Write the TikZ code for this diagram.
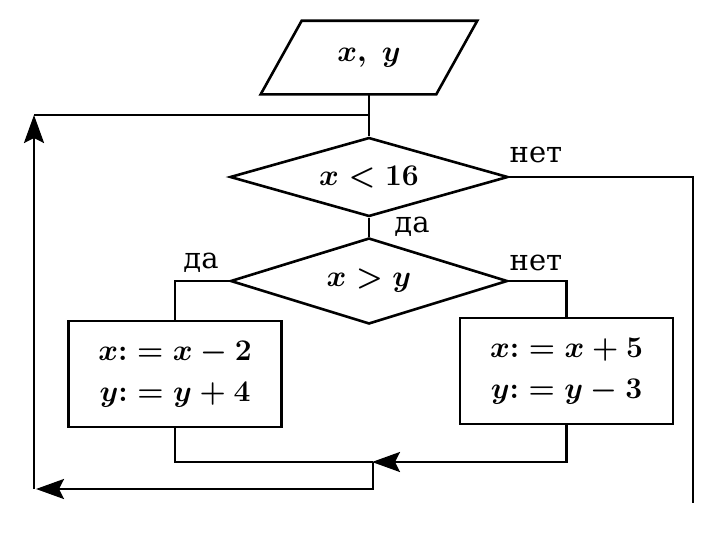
\RequirePackage{fix-cm}
\documentclass[tikz,border=0pt]{standalone}
\usepackage{fontspec}
\setmainfont{DejaVu Serif}
\usetikzlibrary{shapes.geometric,arrows.meta,calc}
\newcommand\mymathfs{\fontsize{30}{41}\selectfont\boldmath}
\newcommand\mylabfs{\fontsize{29}{32}\selectfont}
\begin{document}
\begin{tikzpicture}[x=1pt,y=-1pt,line width=2.6pt,
  arr/.style={-{Stealth[length=28pt,width=20pt,inset=5pt]}},
  dec/.style={diamond,draw,line width=2.6pt,inner sep=0pt,font=\mymathfs},
  act/.style={draw,rectangle,line width=2.6pt,inner sep=0pt,minimum width=213pt,minimum height=106pt,align=center,font=\mymathfs},
  lab/.style={font=\mylabfs,inner sep=0pt}]
\useasboundingbox (0,0) rectangle (718,536);
% input / output parallelogram
\node[minimum width=173pt,minimum height=71pt,inner sep=0pt,font=\mymathfs] (io) at (369,57.5) {$x,\ y$};
\draw[line join=miter] ($(io.north west)+(20.5,0)$) -- ($(io.north east)+(20.5,0)$)
  -- ($(io.south east)+(-20.5,0)$) -- ($(io.south west)+(-20.5,0)$) -- cycle;
% decisions
\node[dec,aspect=3.5,minimum width=278pt,minimum height=79pt] (d1) at (369,177) {$x<16$};
\node[dec,aspect=3.2,minimum width=277pt,minimum height=86pt] (d2) at (369,281) {$x>y$};
% actions
\node[act] (b1) at (175,374) {$x{:}=x-2$\\$y{:}=y+4$};
\node[act] (b2) at (566.5,371) {$x{:}=x+5$\\$y{:}=y-3$};
% helper coordinates
\coordinate (top) at (369,115);
\coordinate (tl) at (34,115);
\coordinate (bl) at (34,489);
\coordinate (j) at (373,462);
\coordinate (jb) at (373,489);
\coordinate (exitR) at (693,503);
% connectors
\draw (io.south) -- (d1.north);
\draw (d1.south) -- (d2.north);
\draw (d1.east) -| (exitR);
\draw (d2.west) -| (b1.north);
\draw (d2.east) -| (b2.north);
\draw (b1.south) |- (j);
\draw[arr,shorten >=-1pt] (b2.south) |- (j);
\draw[arr,shorten >=2pt] (j) -- (jb) -- (bl);
\draw[arr] (bl) -- (tl);
\draw (tl) -- (top);
% labels
\node[lab] (l1) at (536,155) {нет};
\node[lab] (l2) at (412,227) {да};
\node[lab] (l3) at (201,263) {да};
\node[lab] (l4) at (536,263) {нет};
\end{tikzpicture}
\end{document}
